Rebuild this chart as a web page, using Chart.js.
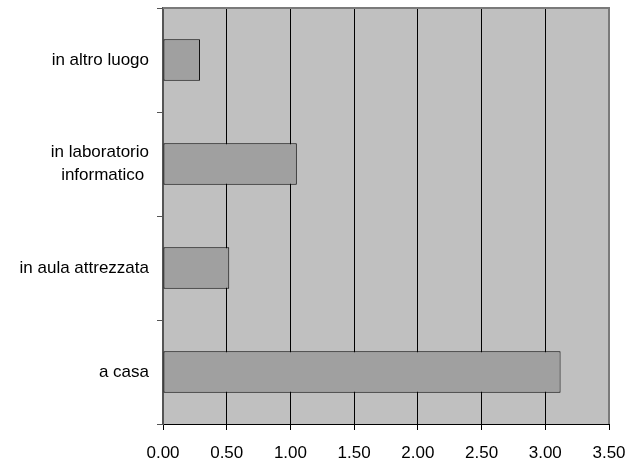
<!DOCTYPE html>
<html>
<head>
<meta charset="utf-8">
<script src="https://cdn.jsdelivr.net/npm/chart.js@4/dist/chart.umd.min.js"></script>
<style>
  html, body { margin: 0; padding: 0; background: #fff; overflow: hidden; }
</style>
</head>
<body>
<canvas id="chart" width="630" height="462"></canvas>
<script>
const categories = ['in altro luogo', ['in laboratorio', 'informatico '], 'in aula attrezzata', 'a casa'];
const values = [0.29, 1.05, 0.52, 3.12];
const xTicks = [0, 0.5, 1, 1.5, 2, 2.5, 3, 3.5];

const plotBackground = {
    id: 'plotBackground',
    beforeDraw(chart) {
        const { ctx, chartArea: a } = chart;
        ctx.save();
        ctx.fillStyle = '#c0c0c0';
        ctx.fillRect(a.left, a.top, a.right - a.left, a.bottom - a.top);
        ctx.restore();
    },
    afterDraw(chart) {
        const { ctx, chartArea: a } = chart;
        ctx.save();
        ctx.strokeStyle = '#7a7a7a';
        ctx.lineWidth = 2;
        ctx.beginPath();
        ctx.moveTo(a.left, a.top);
        ctx.lineTo(a.right, a.top);
        ctx.lineTo(a.right, a.bottom);
        ctx.stroke();
        ctx.restore();
    }
};

new Chart(document.getElementById('chart'), {
    type: 'bar',
    data: {
        labels: categories,
        datasets: [{
            data: values,
            backgroundColor: '#a0a0a0',
            borderColor: '#000',
            borderWidth: 1,
            borderSkipped: false,
            barPercentage: 0.4,
            categoryPercentage: 1
        }]
    },
    options: {
        indexAxis: 'y',
        responsive: false,
        animation: false,
        layout: { padding: { top: 8, right: 21, left: 0, bottom: 0 } },
        plugins: { legend: { display: false }, tooltip: { enabled: false } },
        scales: {
            x: {
                min: 0,
                max: 3.5,
                afterBuildTicks(scale) {
                    scale.ticks = xTicks.map(v => ({ value: v }));
                },
                afterFit(scale) {
                    scale.height = 38;
                    scale.paddingLeft = 0;
                    scale.paddingRight = 0;
                },
                border: { color: '#000', width: 1 },
                grid: {
                    color: ctx => ctx.tick && ctx.tick.value === 0 ? '#555' : (ctx.tick && ctx.tick.value === 3.5 ? '#7a7a7a' : '#000'),
                    lineWidth: 1,
                    tickLength: 6,
                    tickColor: '#000'
                },
                ticks: {
                    color: '#000',
                    padding: 13,
                    maxRotation: 0,
                    font: { family: 'Liberation Sans, Arial, sans-serif', size: 17 },
                    callback: v => Number(v).toFixed(2)
                }
            },
            y: {
                afterFit(scale) {
                    scale.width = 163;
                    scale.paddingTop = 0;
                    scale.paddingBottom = 0;
                },
                border: { color: '#555', width: 2 },
                grid: {
                    offset: true,
                    drawOnChartArea: false,
                    drawTicks: true,
                    tickLength: 6,
                    tickColor: '#555'
                },
                ticks: {
                    color: '#000',
                    padding: 8,
                    font: { family: 'Liberation Sans, Arial, sans-serif', size: 17, lineHeight: 1.35 }
                }
            }
        }
    },
    plugins: [plotBackground]
});
</script>
</body>
</html>
